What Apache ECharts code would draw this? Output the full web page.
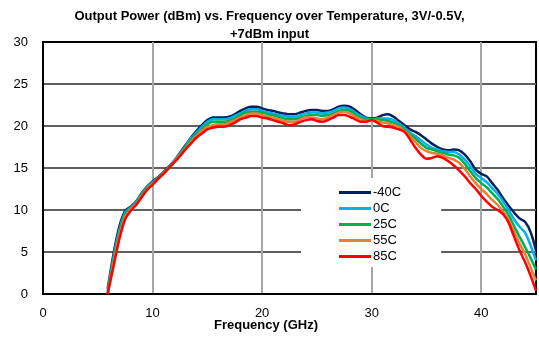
<!DOCTYPE html>
<html>
<head>
<meta charset="utf-8">
<script src="https://cdn.jsdelivr.net/npm/echarts@6/dist/echarts.min.js"></script>
<style>
  html, body { margin: 0; padding: 0; background: #fff; }
  #chart { width: 539px; height: 341px; }
</style>
</head>
<body>
<div id="chart"></div>
<script>
// Frequency points (GHz)
const freq = [5.9, 6.5, 7, 7.5, 8, 8.5, 9, 9.5, 10, 10.5, 11, 11.5, 12, 12.5, 13, 13.5, 14, 14.5,
  15, 15.5, 16, 16.5, 17, 17.5, 18, 18.5, 19, 19.5, 20, 20.5, 21, 21.5, 22, 22.5, 23, 23.5,
  24, 24.5, 25, 25.5, 26, 26.5, 27, 27.5, 28, 28.5, 29, 29.5, 30, 30.5, 31, 31.5, 32, 32.5,
  33, 33.5, 34, 34.5, 35, 35.5, 36, 36.5, 37, 37.5, 38, 38.5, 39, 39.5, 40, 40.5, 41, 41.5,
  42, 42.5, 43, 43.5, 44, 44.5, 45];

// Output power (dBm) per temperature
const pM40 = [0.6, 5.2, 8.2, 9.9, 10.4, 11.0, 12.0, 12.8, 13.4, 13.9, 14.5, 15.2, 15.9, 16.8, 17.7, 18.6, 19.4, 20.1,
  20.7, 21.0, 21.0, 21.0, 21.1, 21.4, 21.8, 22.1, 22.3, 22.3, 22.1, 21.9, 21.8, 21.6, 21.5, 21.4, 21.4, 21.6,
  21.8, 21.9, 21.9, 21.8, 21.8, 22.0, 22.3, 22.4, 22.3, 21.9, 21.4, 21.0, 20.9, 21.0, 21.3, 21.4, 21.1, 20.6,
  20.1, 19.6, 19.3, 18.9, 18.4, 17.9, 17.5, 17.2, 17.1, 17.2, 17.1, 16.6, 15.8, 14.8, 14.3, 14.0, 13.2, 12.4,
  11.4, 10.5, 9.7, 9.0, 8.6, 7.4, 5.2];
const p0 = [0.3, 4.8, 7.8, 9.7, 10.3, 10.9, 11.9, 12.7, 13.3, 13.8, 14.4, 15.1, 15.9, 16.7, 17.6, 18.5, 19.2, 19.9,
  20.5, 20.8, 20.8, 20.8, 20.9, 21.2, 21.5, 21.8, 22.0, 22.0, 21.8, 21.6, 21.5, 21.3, 21.2, 21.1, 21.1, 21.3,
  21.5, 21.6, 21.6, 21.5, 21.6, 21.8, 22.1, 22.2, 22.0, 21.6, 21.2, 20.9, 20.8, 20.9, 20.9, 20.9, 20.7, 20.3,
  19.8, 19.2, 18.8, 18.3, 17.8, 17.4, 17.2, 17.0, 16.9, 16.9, 16.6, 16.0, 15.2, 14.3, 13.8, 13.3, 12.6, 11.9,
  11.0, 10.0, 8.9, 8.0, 7.3, 5.8, 4.0];
const p25 = [0.1, 4.5, 7.5, 9.5, 10.2, 10.8, 11.8, 12.6, 13.2, 13.8, 14.4, 15.1, 15.8, 16.6, 17.5, 18.3, 19.0, 19.6,
  20.2, 20.5, 20.5, 20.5, 20.6, 20.9, 21.3, 21.6, 21.7, 21.7, 21.6, 21.4, 21.3, 21.1, 20.9, 20.8, 20.8, 21.0,
  21.2, 21.3, 21.3, 21.2, 21.3, 21.5, 21.8, 21.9, 21.8, 21.4, 21.0, 20.8, 20.8, 20.8, 20.7, 20.6, 20.4, 20.1,
  19.6, 19.0, 18.5, 17.9, 17.4, 17.2, 17.0, 16.8, 16.6, 16.5, 16.2, 15.5, 14.6, 13.8, 13.2, 12.7, 12.0, 11.3,
  10.4, 9.4, 8.1, 6.8, 5.6, 4.3, 2.9];
const p55 = [0, 4.1, 7.1, 9.2, 10.1, 10.7, 11.6, 12.5, 13.1, 13.7, 14.4, 15.0, 15.8, 16.5, 17.3, 18.1, 18.8, 19.4,
  19.9, 20.1, 20.2, 20.2, 20.4, 20.7, 21.0, 21.3, 21.5, 21.5, 21.3, 21.1, 21.0, 20.8, 20.6, 20.5, 20.5, 20.8,
  21.0, 21.0, 20.9, 20.8, 21.0, 21.3, 21.6, 21.7, 21.5, 21.1, 20.8, 20.6, 20.7, 20.6, 20.4, 20.3, 20.1, 19.9,
  19.4, 18.8, 18.1, 17.4, 17.0, 16.8, 16.7, 16.5, 16.2, 16.0, 15.6, 14.9, 14.0, 13.2, 12.5, 11.9, 11.2, 10.6,
  9.8, 8.8, 7.4, 6.0, 4.8, 3.2, 1.6];
const p85 = [0, 3.7, 6.7, 8.9, 9.9, 10.6, 11.5, 12.4, 13.0, 13.7, 14.3, 15.0, 15.7, 16.4, 17.2, 17.9, 18.6, 19.1,
  19.6, 19.8, 19.9, 19.9, 20.1, 20.4, 20.8, 21.0, 21.2, 21.2, 21.0, 20.9, 20.7, 20.5, 20.3, 20.1, 20.2, 20.5,
  20.7, 20.8, 20.6, 20.5, 20.7, 21.0, 21.3, 21.3, 21.1, 20.8, 20.5, 20.5, 20.7, 20.4, 20.0, 19.9, 19.8, 19.6,
  19.3, 18.4, 17.4, 16.6, 16.1, 16.2, 16.4, 16.2, 15.8, 15.3, 14.7, 14.0, 13.2, 12.5, 11.7, 11.0, 10.4, 10.0,
  9.5, 8.5, 6.8, 5.2, 3.8, 2.2, 0.4];

const seriesNames = ['-40C', '0C', '25C', '55C', '85C'];
const seriesColors = ['#002060', '#00B0F0', '#00B050', '#ED7D31', '#FF0000'];
const seriesValues = [pM40, p0, p25, p55, p85];

const xTicks = [0, 10, 20, 30, 40];
const yTicks = [0, 5, 10, 15, 20, 25, 30];

const FONT = '"Liberation Sans", "DejaVu Sans", sans-serif';

const chart = echarts.init(document.getElementById('chart'), null, { renderer: 'canvas' });

const option = {
  backgroundColor: '#fff',
  animation: false,
  title: {
    text: 'Output Power (dBm) vs. Frequency over Temperature, 3V/-0.5V,\n+7dBm input',
    left: 'center',
    top: 2,
    textStyle: { fontFamily: FONT, fontSize: 13, fontWeight: 'bold', color: '#000', lineHeight: 18 }
  },
  grid: {
    left: 43, right: 1, top: 42, bottom: 47,
    show: true, borderColor: '#000', borderWidth: 2, backgroundColor: 'transparent'
  },
  legend: {
    orient: 'vertical',
    left: 301, top: 178,
    backgroundColor: '#fff',
    padding: [8, 40, 4, 38],
    itemWidth: 32, itemHeight: 3,
    itemGap: 3,
    icon: 'rect',
    textStyle: { fontFamily: FONT, fontSize: 13, color: '#000', lineHeight: 13, padding: [0, 0, 0, -3] },
    data: seriesNames
  },
  xAxis: {
    type: 'value', min: 0, max: 45, interval: 10,
    axisLine: { show: true, lineStyle: { color: '#000', width: 2 } },
    axisTick: { show: false },
    axisLabel: {
      margin: 13, color: '#000', fontFamily: FONT, fontSize: 13,
      formatter: v => (xTicks.indexOf(v) >= 0 ? String(v) : '')
    },
    splitLine: { show: true, showMinLine: false, showMaxLine: false, lineStyle: { color: '#A6A6A6', width: 2 } }
  },
  yAxis: {
    type: 'value', min: 0, max: 30, interval: 5,
    axisLine: { show: true, lineStyle: { color: '#000', width: 2 } },
    axisTick: { show: false },
    axisLabel: {
      margin: 15, color: '#000', fontFamily: FONT, fontSize: 13,
      formatter: v => (yTicks.indexOf(v) >= 0 ? String(v) : '')
    },
    splitLine: { show: true, showMinLine: false, showMaxLine: false, lineStyle: { color: '#5F5F5F', width: 2 } }
  },
  graphic: [{
    type: 'text',
    left: 269 - 55, top: 319,
    style: { text: 'Frequency (GHz)', font: 'bold 13px ' + FONT, fill: '#000' }
  }],
  series: seriesNames.map((name, i) => ({
    name: name,
    type: 'line',
    data: freq.map((f, k) => [f, seriesValues[i][k]]),
    smooth: 0.3,
    showSymbol: false,
    symbol: 'none',
    clip: true,
    lineStyle: { color: seriesColors[i], width: 2.5 },
    itemStyle: { color: seriesColors[i] }
  }))
};

chart.setOption(option);
</script>
</body>
</html>
